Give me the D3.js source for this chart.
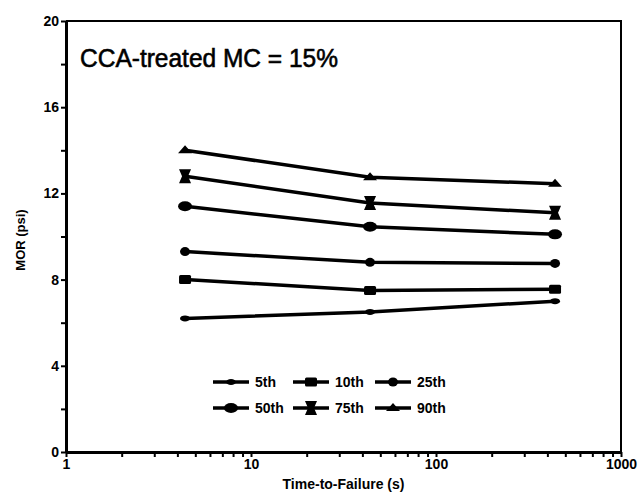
<!DOCTYPE html>
<html lang="en">
<head>
  <meta charset="utf-8">
  <title>MOR vs Time-to-Failure</title>
  <script type="text/javascript" src="https://d3js.org/d3.v7.min.js"></script>
  <style type="text/css">
    body { margin: 0; background: #fff; }
    svg { display: block; }
    .axis path, .axis line { stroke: #000; }
    .axis text { font-family: "Liberation Sans", Arial, sans-serif; font-weight: bold; font-size: 14px; fill: #000; }
    .seriesLine { fill: none; stroke: #000; stroke-width: 3.5; }
    .legendText { font-family: "Liberation Sans", Arial, sans-serif; font-weight: bold; font-size: 14px; }
  </style>
</head>
<body>
  <script type="text/javascript">
  // data
  var timeToFailure = [4.4, 44, 440];
  var p5 = [6.2, 6.5, 7.0];
  var p10 = [8.0, 7.5, 7.55];
  var p25 = [9.3, 8.8, 8.75];
  var p50 = [11.4, 10.45, 10.1];
  var p75 = [12.8, 11.55, 11.1];
  var p90 = [14.0, 12.75, 12.45];

  var seriesNames = ["5th", "10th", "25th", "50th", "75th", "90th"];
  var seriesValues = [p5, p10, p25, p50, p75, p90];

  var xMajorTicks = [1, 10, 100, 1000];
  var yMajorTicks = [0, 4, 8, 12, 16, 20];

  var w = 644;
  var h = 494;
  // plot box edges (named to avoid window.top)
  var plotLeft = 66, plotRight = 621, plotTop = 21, plotBottom = 452;

  var xScale = d3.scaleLog().domain([1, 1000]).range([plotLeft, plotRight]);
  var yScale = d3.scaleLinear().domain([0, 20]).range([plotBottom, plotTop]);

  // marker drawers, one per series
  var markers = {
    "5th": function(g) { g.append("ellipse").attr("rx", 5).attr("ry", 3); },
    "10th": function(g) { g.append("rect").attr("x", -6).attr("y", -4.5).attr("width", 12).attr("height", 9).attr("rx", 1.5); },
    "25th": function(g) { g.append("ellipse").attr("rx", 5).attr("ry", 4.5); },
    "50th": function(g) { g.append("ellipse").attr("rx", 7).attr("ry", 5); },
    "75th": function(g) { g.append("path").attr("d", "M-6,-7L6,-7L3,0L6,7L-6,7L-3,0Z"); },
    "90th": function(g) { g.append("path").attr("d", "M0,-5L7,3L-7,3Z"); }
  };

  var svg = d3.select("body")
    .append("svg")
    .attr("width", w)
    .attr("height", h);

  // frame (top and right)
  svg.append("path")
    .attr("d", "M" + plotLeft + "," + plotTop + "L" + plotRight + "," + plotTop + "L" + plotRight + "," + plotBottom)
    .attr("fill", "none")
    .attr("stroke", "#000")
    .attr("stroke-width", 2);

  // x axis with log minor ticks
  var xTicks = [];
  [1, 10, 100].forEach(function(dec) {
    for (var k = 1; k < 10; k++) xTicks.push(dec * k);
  });
  xTicks.push(1000);

  var xAxis = d3.axisBottom(xScale)
    .tickValues(xTicks)
    .tickSize(5)
    .tickSizeOuter(0)
    .tickPadding(2)
    .tickFormat(function(d) { return xMajorTicks.indexOf(d) >= 0 ? d : ""; });

  var gx = svg.append("g")
    .attr("class", "axis")
    .attr("transform", "translate(0," + plotBottom + ")")
    .call(xAxis);
  gx.select(".domain").attr("stroke-width", 3);
  gx.selectAll(".tick line").attr("stroke-width", 2);

  var yAxis = d3.axisLeft(yScale)
    .tickValues(d3.range(0, 21, 2))
    .tickSize(5)
    .tickSizeOuter(0)
    .tickPadding(2)
    .tickFormat(function(d) { return yMajorTicks.indexOf(d) >= 0 ? d : ""; });

  var gy = svg.append("g")
    .attr("class", "axis")
    .attr("transform", "translate(" + plotLeft + ",0)")
    .call(yAxis);
  gy.select(".domain").attr("stroke-width", 3);
  gy.selectAll(".tick line").attr("stroke-width", 2);

  // series
  var line = d3.line()
    .x(function(d, i) { return xScale(timeToFailure[i]); })
    .y(function(d) { return yScale(d); });

  seriesNames.forEach(function(name, s) {
    svg.append("path")
      .datum(seriesValues[s])
      .attr("class", "seriesLine")
      .attr("d", line);

    seriesValues[s].forEach(function(v, i) {
      var g = svg.append("g")
        .attr("transform", "translate(" + xScale(timeToFailure[i]) + "," + yScale(v) + ")")
        .attr("fill", "#000");
      markers[name](g);
    });
  });

  // legend
  var legendCols = [213, 293, 375];
  var legendRows = [382, 408];
  seriesNames.forEach(function(name, i) {
    var lx = legendCols[i % 3];
    var ly = legendRows[Math.floor(i / 3)];
    var lg = svg.append("g").attr("transform", "translate(" + lx + "," + ly + ")");
    lg.append("line")
      .attr("x1", 0).attr("x2", 36)
      .attr("y1", 0).attr("y2", 0)
      .attr("stroke", "#000")
      .attr("stroke-width", 3.5);
    var mg = lg.append("g").attr("transform", "translate(18,0)").attr("fill", "#000");
    markers[name](mg);
    lg.append("text")
      .attr("class", "legendText")
      .attr("x", 42)
      .attr("y", 5)
      .text(name);
  });

  // title inside plot
  svg.append("text")
    .attr("x", 80)
    .attr("y", 67)
    .attr("font-family", "Liberation Sans, Arial, sans-serif")
    .attr("font-size", 26)
    .attr("stroke", "#000")
    .attr("stroke-width", 0.6)
    .attr("textLength", 258)
    .attr("lengthAdjust", "spacingAndGlyphs")
    .text("CCA-treated MC = 15%");

  // axis titles
  svg.append("text")
    .attr("x", (plotLeft + plotRight) / 2)
    .attr("y", 489)
    .attr("text-anchor", "middle")
    .attr("font-family", "Liberation Sans, Arial, sans-serif")
    .attr("font-weight", "bold")
    .attr("font-size", 14)
    .text("Time-to-Failure (s)");

  svg.append("text")
    .attr("transform", "translate(25,240) rotate(-90)")
    .attr("text-anchor", "middle")
    .attr("font-family", "Liberation Sans, Arial, sans-serif")
    .attr("font-weight", "bold")
    .attr("font-size", 13)
    .text("MOR (psi)");
  </script>
</body>
</html>
